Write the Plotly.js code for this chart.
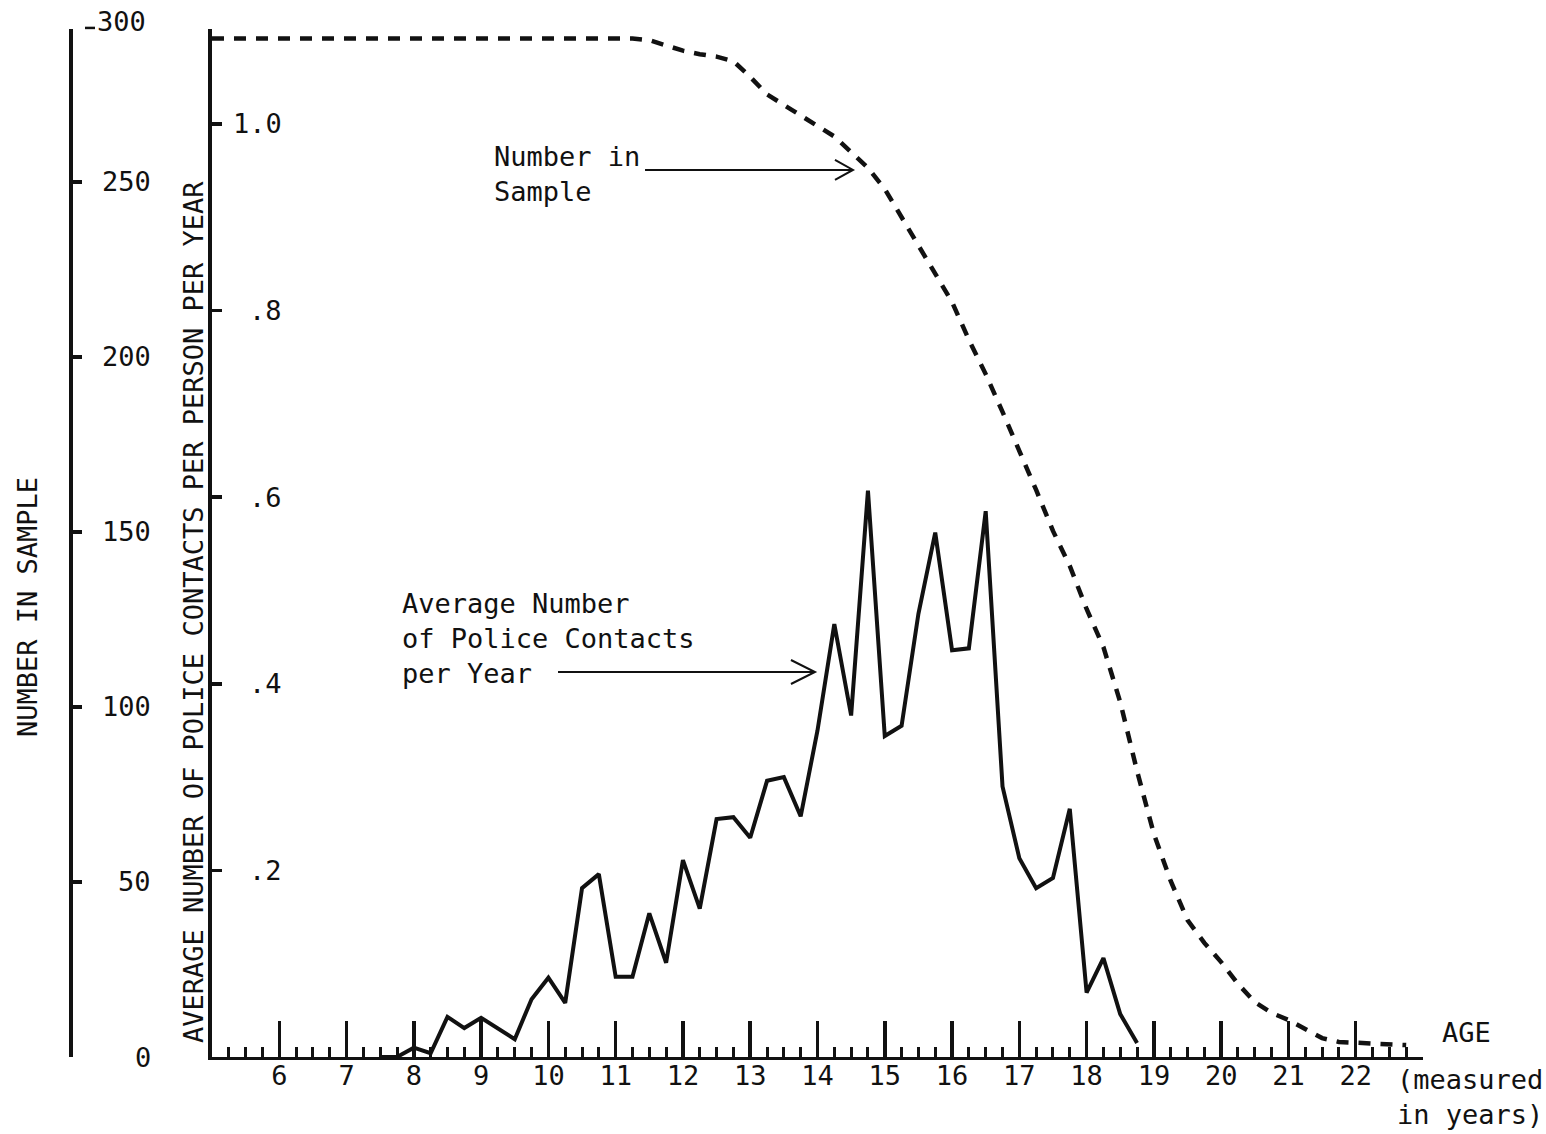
<!DOCTYPE html>
<html>
<head>
<meta charset="utf-8">
<script src="https://cdn.plot.ly/plotly-3.0.1.min.js"></script>
<style>html,body{margin:0;padding:0;background:#fff;}#chart{width:1546px;height:1134px;}</style>
</head>
<body>
<div id="chart"></div>
<script>
// Average number of police contacts per person per year, by age (quarter years)
const contactAges = [7.5, 7.75, 8, 8.25, 8.5, 8.75, 9, 9.25, 9.5, 9.75, 10, 10.25, 10.5, 10.75, 11, 11.25, 11.5, 11.75, 12, 12.25, 12.5, 12.75, 13, 13.25, 13.5, 13.75, 14, 14.25, 14.5, 14.75, 15, 15.25, 15.5, 15.75, 16, 16.25, 16.5, 16.75, 17, 17.25, 17.5, 17.75, 18, 18.25, 18.5, 18.75];
const contactValues = [0, 0, 0.01, 0.004, 0.043, 0.031, 0.042, 0.030, 0.019, 0.062, 0.085, 0.058, 0.181, 0.196, 0.086, 0.086, 0.154, 0.101, 0.211, 0.159, 0.255, 0.257, 0.235, 0.296, 0.300, 0.258, 0.35, 0.464, 0.366, 0.607, 0.344, 0.355, 0.475, 0.562, 0.436, 0.438, 0.585, 0.29, 0.213, 0.181, 0.192, 0.266, 0.069, 0.106, 0.046, 0.015];

// Number in sample, by age
const sampleAges = [5, 6, 7, 8, 9, 10, 11, 11.25, 11.5, 11.75, 12, 12.25, 12.5, 12.75, 13, 13.25, 13.5, 13.75, 14, 14.25, 14.5, 14.75, 15, 15.25, 15.5, 15.75, 16, 16.25, 16.5, 16.75, 17, 17.25, 17.5, 17.75, 18, 18.25, 18.5, 18.75, 19, 19.25, 19.5, 19.75, 20, 20.25, 20.5, 20.75, 21, 21.25, 21.5, 21.75, 22, 22.25, 22.5, 22.75];
const sampleValues = [291, 291, 291, 291, 291, 291, 291, 291, 290.5, 289, 287.5, 286.5, 285.8, 284.5, 280, 275, 272, 269, 266, 263, 258.5, 254, 248, 240, 231.4, 223.7, 215.7, 204.9, 195.1, 184.3, 173.4, 162, 150.3, 140.3, 128, 117.1, 101.4, 81.7, 63.7, 50.3, 39.1, 32.6, 27.1, 20.9, 15.7, 12.6, 10.6, 8, 5.4, 4.3, 4, 3.7, 3.7, 3.4];

// Tick labels
const ageTicks = [5, 6, 7, 8, 9, 10, 11, 12, 13, 14, 15, 16, 17, 18, 19, 20, 21, 22, 23];
const ageTickText = ['', '6', '7', '8', '9', '10', '11', '12', '13', '14', '15', '16', '17', '18', '19', '20', '21', '22', ''];
const sampleTicks = [0, 50, 100, 150, 200, 250];
const sampleTickText = ['0', '50', '100', '150', '200', '250'];
const sampleTopLabel = '300';
const contactTicks = [0.2, 0.4, 0.6, 0.8, 1.0];
const contactTickText = ['.2', '.4', '.6', '.8', '1.0'];

const FONT = 'DejaVu Sans Mono, Liberation Mono, monospace';
const INK = '#111';
const tickFont = {family: FONT, size: 27, color: INK};

const traces = [
  {
    x: sampleAges, y: sampleValues, yaxis: 'y', type: 'scatter', mode: 'lines',
    line: {color: INK, width: 4.5, dash: '12px,10px'}, hoverinfo: 'skip', showlegend: false
  },
  {
    x: contactAges, y: contactValues, yaxis: 'y2', type: 'scatter', mode: 'lines',
    line: {color: INK, width: 4}, hoverinfo: 'skip', showlegend: false
  }
];

const yTop = 0.98;
const sampleRange = [0, 293.7];
const contactRange = [0, 1.1018];

// tick labels of the two vertical scales (right-aligned, as in the original)
const sampleLabelAnns = sampleTicks.map((v, i) => ({
  text: sampleTickText[i], xref: 'paper', yref: 'y', x: 0.0613, y: v,
  xanchor: 'right', yanchor: 'middle', showarrow: false, font: tickFont
}));
const contactLabelAnns = contactTicks.map((v, i) => ({
  text: contactTickText[i], xref: 'paper', yref: 'y2', x: 0.1582, y: v,
  xanchor: 'right', yanchor: 'middle', showarrow: false, font: tickFont
}));

const layout = {
  width: 1546, height: 1134,
  margin: {l: 70, r: 123, t: 8, b: 77},
  paper_bgcolor: '#fff', plot_bgcolor: '#fff',
  font: {family: FONT, color: INK, size: 27},
  showlegend: false,
  xaxis: {
    domain: [0.10495, 1], range: [5, 23], anchor: 'y2',
    showline: true, linecolor: INK, linewidth: 3, showgrid: false, zeroline: false,
    tickmode: 'array', tickvals: ageTicks, ticktext: ageTickText,
    ticks: 'inside', ticklen: 36, tickwidth: 3.5, tickcolor: INK,
    ticklabelstandoff: -7,
    minor: {ticks: 'inside', ticklen: 10, tickwidth: 3, tickcolor: INK, tickmode: 'linear', tick0: 5, dtick: 0.25, showgrid: false},
    tickfont: tickFont
  },
  yaxis: {
    domain: [0, yTop], range: sampleRange, anchor: 'free', position: 0,
    showline: true, linecolor: INK, linewidth: 3.5, showgrid: false, zeroline: false,
    tickmode: 'array', tickvals: sampleTicks, ticks: 'inside', ticklen: 9, tickwidth: 3.5, tickcolor: INK,
    showticklabels: false
  },
  yaxis2: {
    domain: [0, yTop], range: contactRange, anchor: 'x', overlaying: 'y', side: 'left',
    showline: true, linecolor: INK, linewidth: 3.5, showgrid: false, zeroline: false,
    tickmode: 'array', tickvals: contactTicks, ticks: 'inside', ticklen: 10, tickwidth: 3.5, tickcolor: INK,
    showticklabels: false
  },
  annotations: [
    ...sampleLabelAnns,
    ...contactLabelAnns,
    {text: 'NUMBER IN SAMPLE', xref: 'paper', yref: 'paper', x: -0.031, y: 0.429, textangle: -90,
     showarrow: false, xanchor: 'center', yanchor: 'middle', font: {family: FONT, size: 27, color: INK}},
    {text: 'AVERAGE NUMBER OF POLICE CONTACTS PER PERSON PER YEAR', xref: 'paper', yref: 'paper', x: 0.0909, y: 0.4242, textangle: -90,
     showarrow: false, xanchor: 'center', yanchor: 'middle', font: {family: FONT, size: 27, color: INK}},
    {text: sampleTopLabel, xref: 'paper', yref: 'paper', x: 0.0576, y: 0.9867, xanchor: 'right', yanchor: 'middle',
     showarrow: false, font: tickFont},
    {text: 'AGE', xref: 'paper', yref: 'paper', x: 1.0126, y: 0.0229, xanchor: 'left', yanchor: 'middle',
     showarrow: false, font: {family: FONT, size: 27, color: INK}},
    {text: '(measured<br>in years)', xref: 'paper', yref: 'paper', x: 0.9793, y: -0.0381, xanchor: 'left', yanchor: 'middle', align: 'left',
     showarrow: false, font: {family: FONT, size: 27, color: INK}},
    {text: 'Number in<br>Sample', xref: 'paper', yref: 'paper', x: 0.3119, y: 0.8418, xanchor: 'left', yanchor: 'middle', align: 'left',
     showarrow: false, font: {family: FONT, size: 27, color: INK}},
    {text: 'Average Number<br>of Police Contacts<br>per Year', xref: 'paper', yref: 'paper', x: 0.2439, y: 0.3985, xanchor: 'left', yanchor: 'middle', align: 'left',
     showarrow: false, font: {family: FONT, size: 27, color: INK}}
  ],
  shapes: [
    // dash next to the 300 label
    {type: 'line', xref: 'paper', yref: 'paper', x0: 0.0111, x1: 0.0185, y0: 0.981, y1: 0.981, line: {color: INK, width: 2.5}},
    // arrow to "Number in Sample" curve
    {type: 'line', xref: 'paper', yref: 'paper', x0: 0.425, x1: 0.5787, y0: 0.8456, y1: 0.8456, line: {color: INK, width: 2}},
    {type: 'path', xref: 'paper', yref: 'paper', xsizemode: 'pixel', ysizemode: 'pixel', xanchor: 0.5787, yanchor: 0.8456,
     path: 'M -18 -10 L 0 0 L -18 10', line: {color: INK, width: 2}},
    // arrow to "Average Number of Police Contacts" curve
    {type: 'line', xref: 'paper', yref: 'paper', x0: 0.3607, x1: 0.5506, y0: 0.367, y1: 0.367, line: {color: INK, width: 2}},
    {type: 'path', xref: 'paper', yref: 'paper', xsizemode: 'pixel', ysizemode: 'pixel', xanchor: 0.5506, yanchor: 0.367,
     path: 'M -24 -12 L 0 0 L -24 12', line: {color: INK, width: 2}}
  ]
};

Plotly.newPlot('chart', traces, layout, {staticPlot: true, displayModeBar: false});
</script>
</body>
</html>
